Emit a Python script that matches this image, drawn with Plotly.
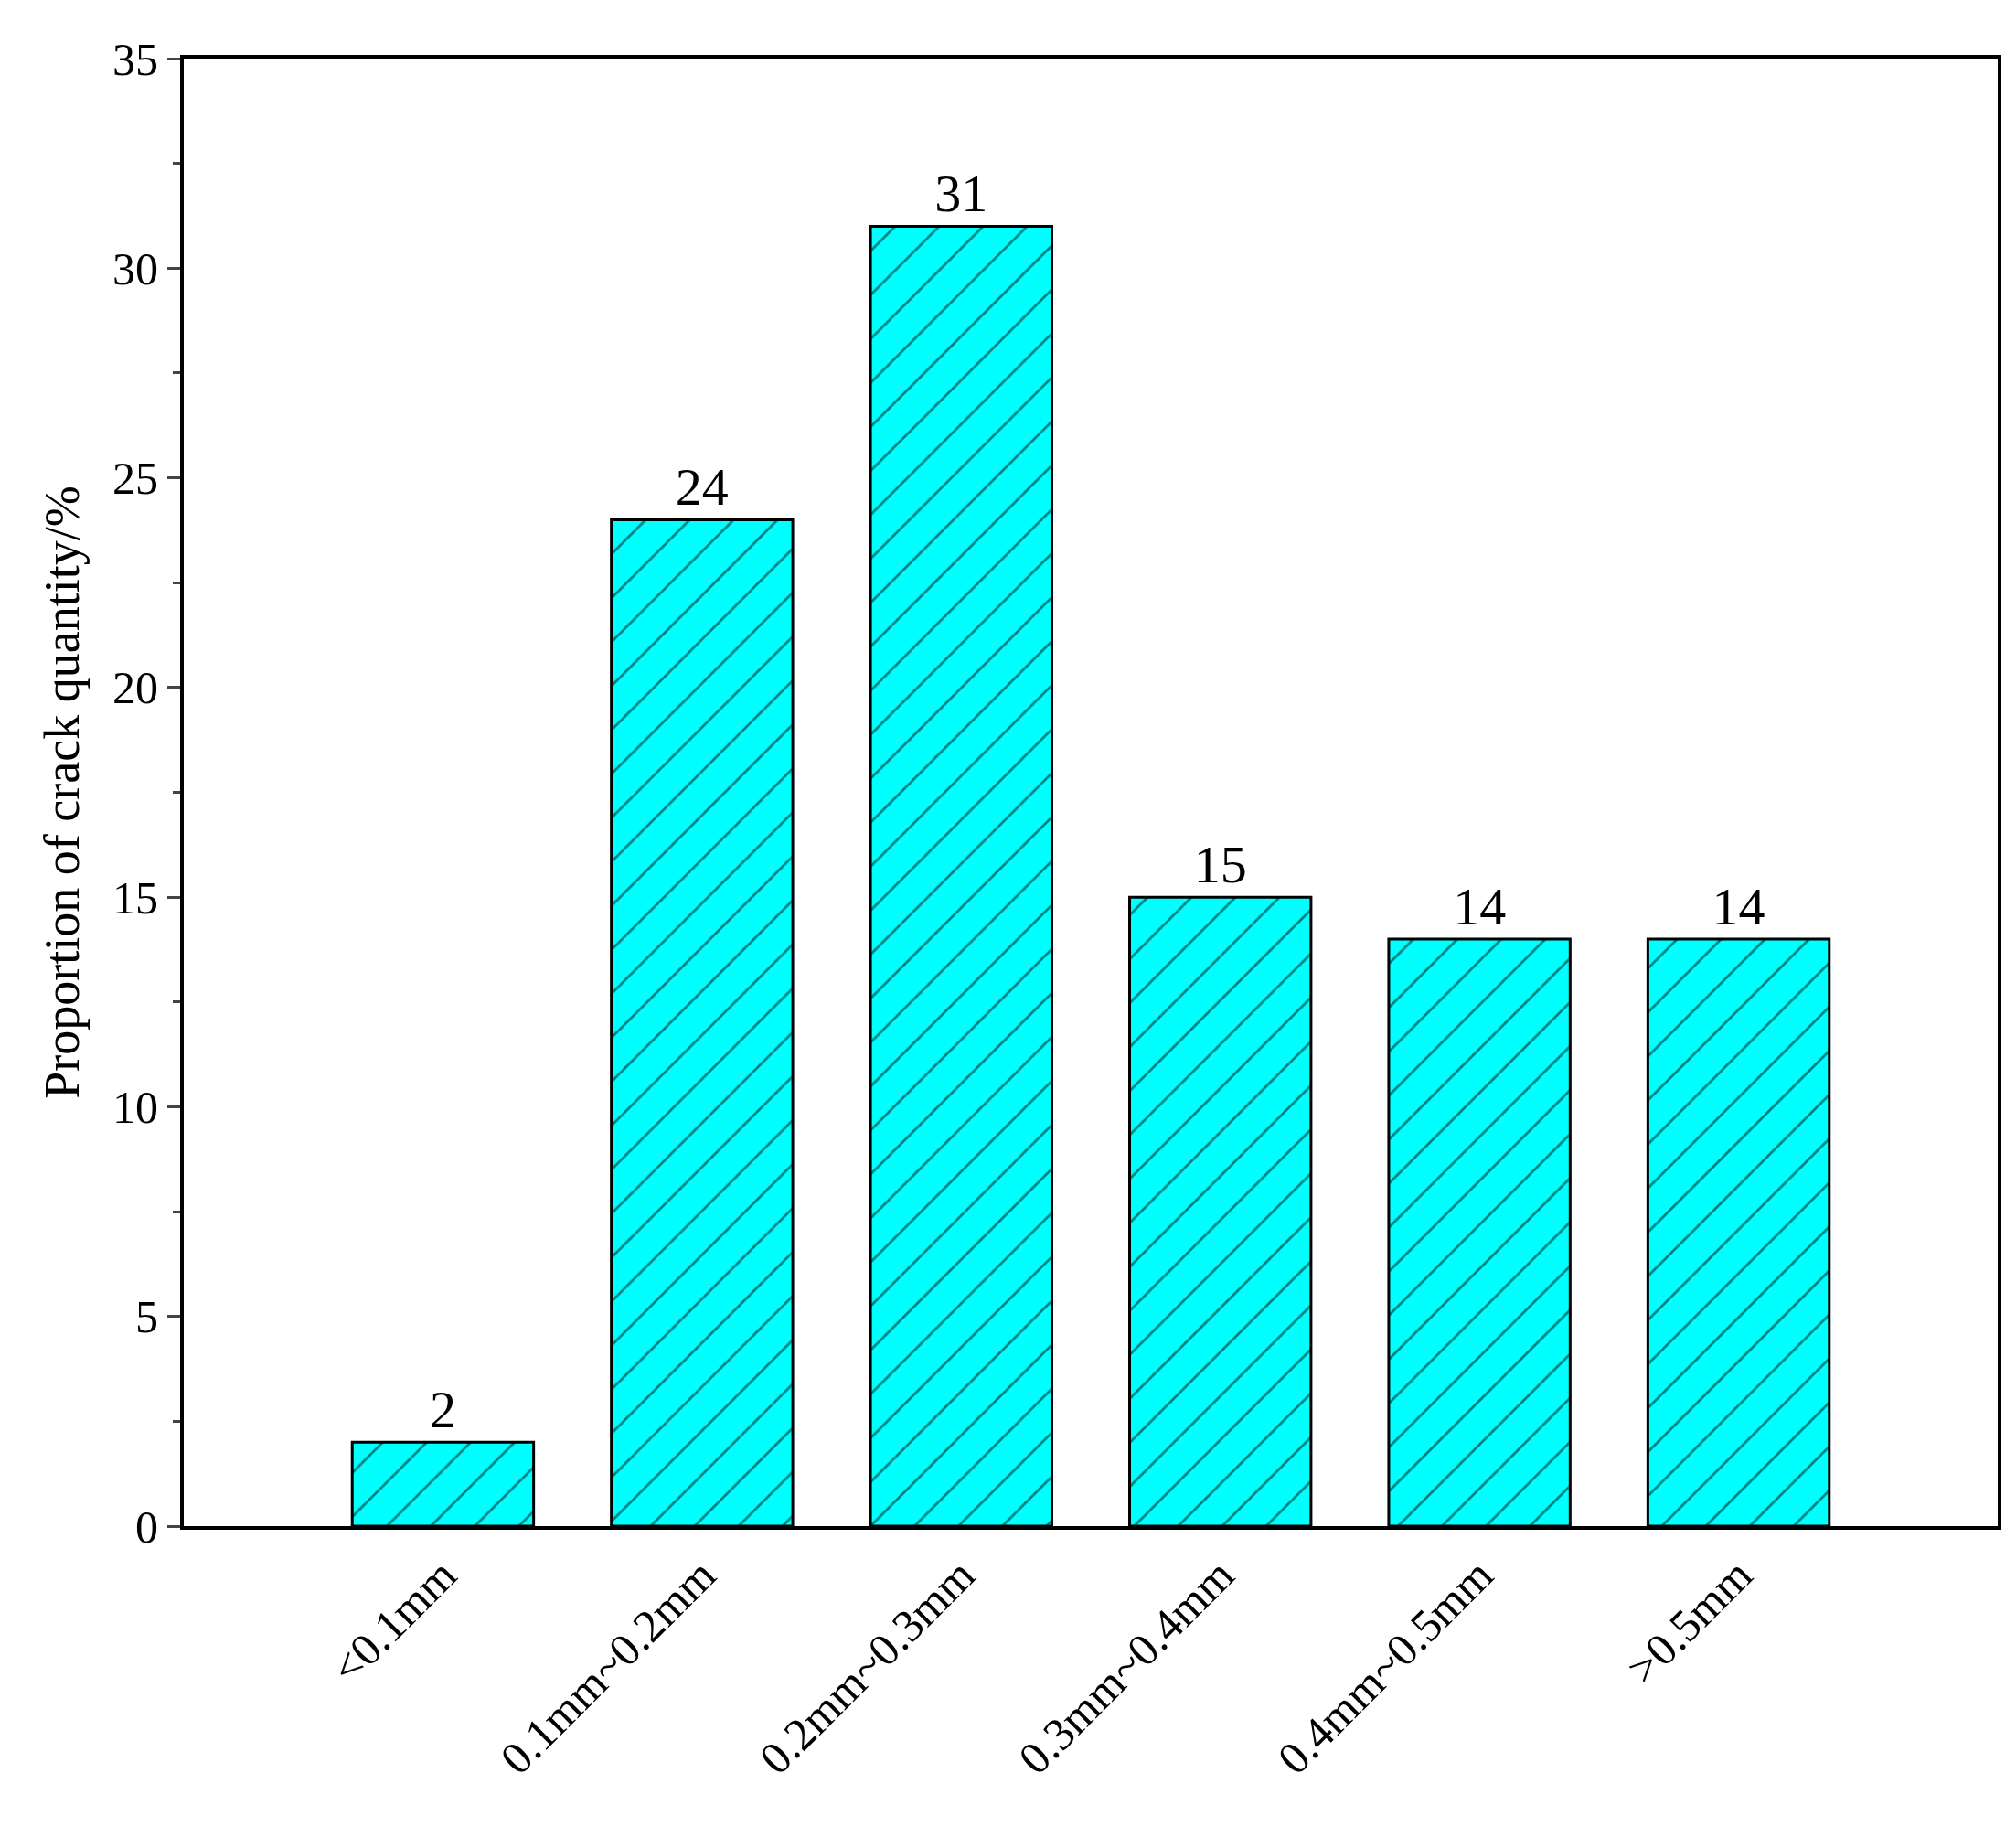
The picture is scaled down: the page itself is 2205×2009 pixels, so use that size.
import plotly.graph_objects as go

categories = ["<0.1mm", "0.1mm~0.2mm", "0.2mm~0.3mm", "0.3mm~0.4mm", "0.4mm~0.5mm", ">0.5mm"]
values = [2, 24, 31, 15, 14, 14]

fig = go.Figure(go.Bar(
    x=list(range(len(categories))), y=values, width=0.7,
    text=[str(v) for v in values], textposition="outside",
    textfont=dict(size=58, color="black", family="Liberation Serif"),
    cliponaxis=False,
    marker=dict(color="#00FFFF", line=dict(color="black", width=3),
                pattern=dict(shape="/", fgcolor="black", bgcolor="#00FFFF", size=34, solidity=0.08)),
))
fig.update_layout(
    width=2205, height=2009, plot_bgcolor="white", paper_bgcolor="white",
    margin=dict(l=193, r=28, t=56, b=348), showlegend=False,
    font=dict(family="Liberation Serif", color="black", size=50),
)
fig.update_xaxes(range=[-1, 6], tickvals=list(range(len(categories))), ticktext=categories,
                 tickangle=-45, showline=True, linecolor="black", linewidth=4, mirror=True,
                 ticks="", showgrid=False, automargin=False, tickfont=dict(size=50))
fig.update_yaxes(range=[0, 35], dtick=5, showline=True, linecolor="black", linewidth=4, mirror=True,
                 ticks="outside", ticklen=14, tickwidth=3, showgrid=False, zeroline=False,
                 minor=dict(ticks="outside", ticklen=8, tickwidth=3, dtick=2.5),
                 title=dict(text="Proportion of crack quantity/%", font=dict(size=54), standoff=20),
                 tickfont=dict(size=50))
fig.write_html("out.html")
